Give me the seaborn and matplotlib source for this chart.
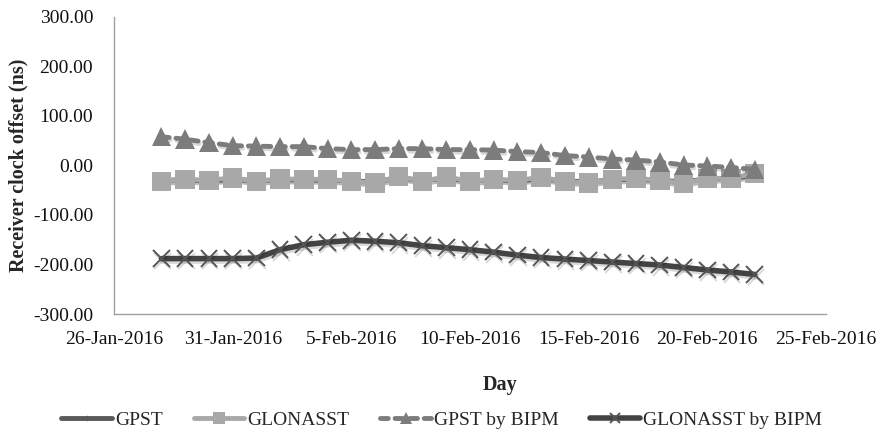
import pandas as pd
import matplotlib.pyplot as plt
import matplotlib.dates as mdates
import matplotlib.patheffects as pe
from matplotlib.ticker import FuncFormatter
import seaborn as sns

# Dados
days = pd.date_range('2016-01-28', '2016-02-22', freq='D')
gpst = [-30, -29, -31, -28, -31, -29, -29, -30, -31, -33, -25, -30, -26,
        -31, -29, -31, -27, -31, -33, -29, -28, -30, -33, -27, -26, -20]
glonasst = [-32, -28, -30, -25, -32, -27, -28, -28, -32, -35, -22, -32, -23,
            -32, -28, -30, -24, -32, -35, -28, -26, -30, -36, -26, -26, -16]
gpst_bipm = [58, 53, 46, 40, 39, 38, 38, 34, 32, 32, 34, 34, 32,
             32, 31, 28, 26, 20, 17, 13, 11, 7, 1, -1, -4, -8]
glonasst_bipm = [-188, -188, -188, -188, -187, -170, -160, -155, -151, -153, -156, -162, -166,
                 -170, -175, -181, -186, -189, -192, -195, -198, -201, -206, -211, -215, -220]

sns.set_theme(style="white")
plt.rcParams['font.family'] = ['Liberation Serif', 'DejaVu Serif']

fig, ax = plt.subplots(figsize=(8.8, 4.32), dpi=100)
fig.subplots_adjust(left=0.1295, right=0.9386, top=0.961, bottom=0.273)

shadow = [pe.SimpleLineShadow(offset=(0.8, -1.8), alpha=0.15, shadow_color='#000000'), pe.Normal()]

# GPST (fica quase todo escondido atrás do GLONASST)
sns.lineplot(x=days, y=gpst, ax=ax, color='#595959', label='GPST',
             linewidth=3.5, marker='D', markersize=5, markeredgewidth=0,
             solid_capstyle='round')
sns.lineplot(x=days, y=glonasst, ax=ax, color='#a8a8a8', label='GLONASST',
             linewidth=3.5, marker='s', markersize=14, markeredgewidth=0,
             solid_capstyle='round')
sns.lineplot(x=days, y=gpst_bipm, ax=ax, color='#7c7c7c', label='GPST by BIPM',
             linewidth=3.5, linestyle=(0, (1.6, 1.4)), marker='^', markersize=14,
             markeredgewidth=0, dash_capstyle='round')
sns.lineplot(x=days, y=glonasst_bipm, ax=ax, color='#434343', label='GLONASST by BIPM',
             linewidth=4, marker='x', markersize=12, markeredgewidth=1.4,
             markeredgecolor='#555555', solid_capstyle='round')
for ln in ax.lines:
    ln.set_path_effects(shadow)

ax.set_xlim(pd.Timestamp('2016-01-26'), pd.Timestamp('2016-02-25'))
ax.set_ylim(-300, 300)
ax.set_yticks(range(-300, 301, 100))
ax.yaxis.set_major_formatter(FuncFormatter(lambda v, p: f'{v:.2f}'))
ax.set_xticks(pd.date_range('2016-01-26', '2016-02-25', freq='5D'))
ax.xaxis.set_major_formatter(FuncFormatter(
    lambda v, p: f"{mdates.num2date(v).day}-{mdates.num2date(v):%b-%Y}"))
ax.tick_params(axis='both', labelsize=14, length=0, colors='#111111')
ax.tick_params(axis='y', pad=15)
ax.tick_params(axis='x', pad=12)

ax.set_xlabel('Day', fontsize=14.5, fontweight='bold')
ax.set_ylabel('Receiver clock offset (ns)', fontsize=14.5, fontweight='bold')
ax.xaxis.set_label_coords(0.542, -0.205)
ax.yaxis.set_label_coords(-0.12, 0.5)

for s in ['top', 'right']:
    ax.spines[s].set_visible(False)
for s in ['left', 'bottom']:
    ax.spines[s].set_color('#a0a0a0')
    ax.spines[s].set_linewidth(1)

handles, labels = ax.get_legend_handles_labels()
ax.get_legend().remove()
leg = fig.legend(handles, labels, loc='center', bbox_to_anchor=(0.502, 0.028), ncol=4,
                 frameon=False, fontsize=14, handlelength=2.6, columnspacing=1.6,
                 handletextpad=0.15, markerscale=0.6)
for h in leg.legend_handles:
    h.set_path_effects([])

plt.savefig('out.png', dpi=100)
